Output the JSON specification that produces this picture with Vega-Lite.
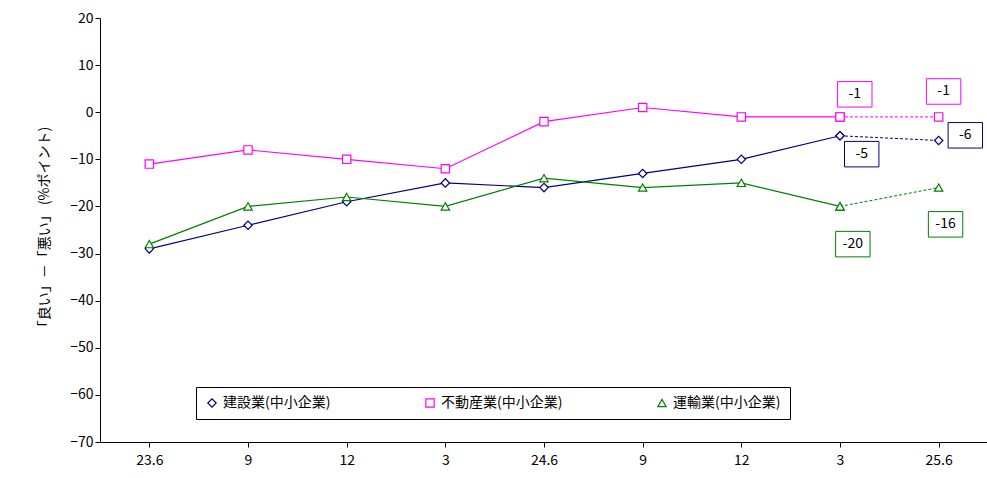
{
  "$schema": "https://vega.github.io/schema/vega-lite/v6.json",
  "width": 888,
  "height": 424,
  "autosize": "none",
  "padding": {"left": 100, "top": 18, "right": 0, "bottom": 36},
  "config": {"font": "Noto Sans CJK JP", "view": {"stroke": null}},
  "datasets": {
    "main": [
      {"s": "建設業(中小企業)", "i": 0, "v": -29}, {"s": "建設業(中小企業)", "i": 1, "v": -24},
      {"s": "建設業(中小企業)", "i": 2, "v": -19}, {"s": "建設業(中小企業)", "i": 3, "v": -15},
      {"s": "建設業(中小企業)", "i": 4, "v": -16}, {"s": "建設業(中小企業)", "i": 5, "v": -13},
      {"s": "建設業(中小企業)", "i": 6, "v": -10}, {"s": "建設業(中小企業)", "i": 7, "v": -5},
      {"s": "不動産業(中小企業)", "i": 0, "v": -11}, {"s": "不動産業(中小企業)", "i": 1, "v": -8},
      {"s": "不動産業(中小企業)", "i": 2, "v": -10}, {"s": "不動産業(中小企業)", "i": 3, "v": -12},
      {"s": "不動産業(中小企業)", "i": 4, "v": -2}, {"s": "不動産業(中小企業)", "i": 5, "v": 1},
      {"s": "不動産業(中小企業)", "i": 6, "v": -1}, {"s": "不動産業(中小企業)", "i": 7, "v": -1},
      {"s": "運輸業(中小企業)", "i": 0, "v": -28}, {"s": "運輸業(中小企業)", "i": 1, "v": -20},
      {"s": "運輸業(中小企業)", "i": 2, "v": -18}, {"s": "運輸業(中小企業)", "i": 3, "v": -20},
      {"s": "運輸業(中小企業)", "i": 4, "v": -14}, {"s": "運輸業(中小企業)", "i": 5, "v": -16},
      {"s": "運輸業(中小企業)", "i": 6, "v": -15}, {"s": "運輸業(中小企業)", "i": 7, "v": -20}
    ],
    "fc": [
      {"s": "建設業(中小企業)", "i": 7, "v": -5}, {"s": "建設業(中小企業)", "i": 8, "v": -6},
      {"s": "不動産業(中小企業)", "i": 7, "v": -1}, {"s": "不動産業(中小企業)", "i": 8, "v": -1},
      {"s": "運輸業(中小企業)", "i": 7, "v": -20}, {"s": "運輸業(中小企業)", "i": 8, "v": -16}
    ],
    "lab": [
      {"s": "不動産業(中小企業)", "i": 7.15, "v": 3.8, "t": "-1"},
      {"s": "不動産業(中小企業)", "i": 8.05, "v": 4.4, "t": "-1"},
      {"s": "建設業(中小企業)", "i": 7.22, "v": -8.9, "t": "-5"},
      {"s": "建設業(中小企業)", "i": 8.27, "v": -4.9, "t": "-6"},
      {"s": "運輸業(中小企業)", "i": 7.13, "v": -28, "t": "-20"},
      {"s": "運輸業(中小企業)", "i": 8.07, "v": -23.8, "t": "-16"}
    ]
  },
  "encoding": {
    "x": {"field": "i", "type": "quantitative", "scale": {"domain": [-0.5, 8.5], "nice": false},
      "axis": {"title": null, "values": [0,1,2,3,4,5,6,7,8], "grid": false, "domainColor": "black", "tickColor": "black", "labelColor": "black", "labelFontSize": 14, "labelPadding": 6,
        "labelExpr": "['23.6','9','12','3','24.6','9','12','3','25.6'][datum.value]"}},
    "y": {"field": "v", "type": "quantitative", "scale": {"domain": [-70, 20], "nice": false},
      "axis": {"title": "「良い」－「悪い」 (%ポイント)", "titleFontSize": 14, "titleFontWeight": "normal", "titleColor": "black", "values": [20,10,0,-10,-20,-30,-40,-50,-60,-70], "grid": false, "domainColor": "black", "tickColor": "black", "labelColor": "black", "labelFontSize": 14, "titlePadding": 18}},
    "color": {"field": "s", "type": "nominal", "sort": ["建設業(中小企業)", "不動産業(中小企業)", "運輸業(中小企業)"],
      "scale": {"domain": ["建設業(中小企業)", "不動産業(中小企業)", "運輸業(中小企業)"], "range": ["#000080", "#FF00FF", "#008000"]},
      "legend": {"title": null, "orient": "none", "legendX": 96, "legendY": 369, "direction": "horizontal", "strokeColor": "black", "fillColor": "white", "padding": 9, "labelFontSize": 14, "labelColor": "black", "symbolStrokeWidth": 1.2, "columnPadding": 92, "symbolSize": 70}}
  },
  "layer": [
    {"data": {"values": [{"z": 0}]}, "mark": {"type": "rule", "color": "black", "strokeWidth": 1.5}, "encoding": {"y": {"datum": 0}, "x": null, "color": null}},
    {"data": {"name": "fc"}, "mark": {"type": "line", "strokeDash": [3, 2], "strokeWidth": 1}, "encoding": {"detail": {"field": "s"}}},
    {"data": {"name": "main"}, "mark": {"type": "line", "strokeWidth": 1.2, "point": false}},
    {"data": {"name": "fc"}, "mark": {"type": "point", "filled": true, "fill": "white", "size": 70, "strokeWidth": 1.2, "opacity": 1},
      "encoding": {"shape": {"field": "s", "type": "nominal", "scale": {"domain": ["建設業(中小企業)", "不動産業(中小企業)", "運輸業(中小企業)"], "range": ["diamond", "square", "triangle-up"]}, "legend": null}, "stroke": {"field": "s", "scale": {"domain": ["建設業(中小企業)", "不動産業(中小企業)", "運輸業(中小企業)"], "range": ["#000080", "#FF00FF", "#008000"]}, "legend": null}, "color": null}},
    {"data": {"name": "main"}, "mark": {"type": "point", "filled": true, "fill": "white", "size": 70, "strokeWidth": 1.2, "opacity": 1},
      "encoding": {"shape": {"field": "s", "type": "nominal", "scale": {"domain": ["建設業(中小企業)", "不動産業(中小企業)", "運輸業(中小企業)"], "range": ["diamond", "square", "triangle-up"]}, "legend": null}, "stroke": {"field": "s", "legend": null}, "color": null}},
    {"data": {"name": "lab"}, "mark": {"type": "point", "shape": "M-1.35,-1L1.35,-1L1.35,1L-1.35,1Z", "size": 650, "filled": false, "fill": "white", "strokeWidth": 1, "opacity": 1},
      "encoding": {"stroke": {"field": "s", "legend": null}, "color": null}},
    {"data": {"name": "lab"}, "mark": {"type": "text", "fontSize": 14, "color": "black"}, "encoding": {"text": {"field": "t"}, "color": null}}
  ]
}
